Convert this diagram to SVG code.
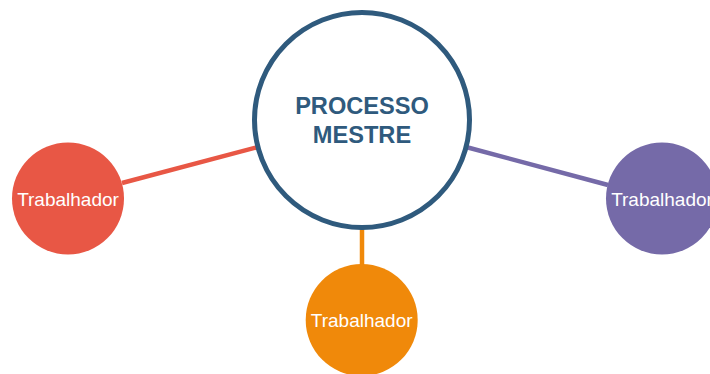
<svg xmlns="http://www.w3.org/2000/svg" width="710" height="374" viewBox="0 0 710 374">
<style>
.lbl{font-family:"Liberation Sans",Arial,sans-serif;font-size:19px;fill:#fff;text-anchor:middle}
.main{font-family:"Liberation Sans",Arial,sans-serif;font-size:23.6px;font-weight:bold;fill:#2f5a7d;text-anchor:middle}
.edge{stroke-width:4.5;fill:none}
</style>
<rect width="710" height="374" fill="#fff"/>
<g id="connectors">
<line class="edge" x1="122" y1="183" x2="258" y2="147" stroke="#e85745"/>
<line class="edge" x1="362" y1="227" x2="362" y2="266" stroke="#f0890a"/>
<line class="edge" x1="466" y1="147" x2="608" y2="185" stroke="#756aa8"/>
</g>
<g id="master">
<circle cx="362" cy="120" r="107.5" fill="#fff" stroke="#2f5a7d" stroke-width="5"/>
<text class="main" x="362" y="113.7">PROCESSO</text>
<text class="main" x="362" y="142.7">MESTRE</text>
</g>
<g id="worker-left">
<circle cx="68" cy="198.5" r="56" fill="#e85745"/>
<text class="lbl" x="68" y="205.5">Trabalhador</text>
</g>
<g id="worker-bottom">
<circle cx="361.7" cy="320" r="56" fill="#f0890a"/>
<text class="lbl" x="361.7" y="327">Trabalhador</text>
</g>
<g id="worker-right">
<circle cx="662" cy="198.5" r="56" fill="#756aa8"/>
<text class="lbl" x="662" y="205.5">Trabalhador</text>
</g>
</svg>
